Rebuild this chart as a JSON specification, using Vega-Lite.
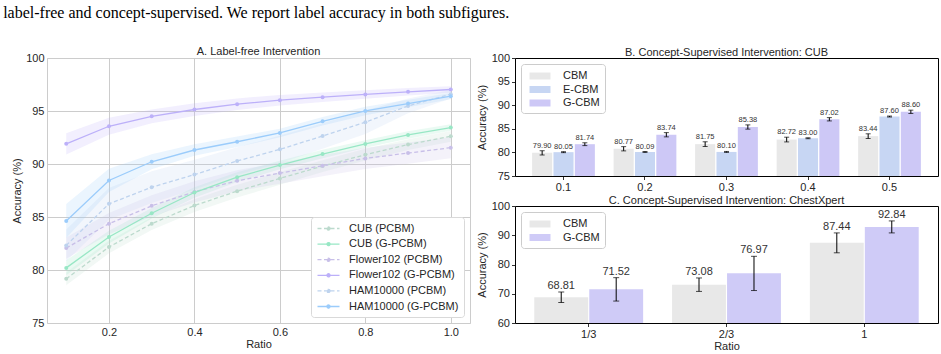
{
  "$schema": "https://vega.github.io/schema/vega-lite/v6.json",
  "background": "white",
  "padding": {"left": 3, "top": 4, "right": 5, "bottom": 2},
  "config": {
    "font": "Liberation Sans",
    "view": {"stroke": null},
    "axis": {"labelColor": "#262626", "titleColor": "#262626", "titleFontWeight": "normal", "labelFontSize": 11, "titleFontSize": 11, "labelOverlap": false},
    "axisY": {"tickSize": 3.5, "tickColor": "black", "tickWidth": 0.8, "labelPadding": 2, "titlePadding": 4, "domain": false, "grid": false},
    "title": {"fontWeight": "normal", "color": "#262626", "fontSize": 11, "offset": -6, "baseline": "alphabetic"},
    "legend": {"labelColor": "#262626"}
  },
  "title": {
    "text": "label-free and concept-supervised. We report label accuracy in both subfigures.",
    "font": "Liberation Serif",
    "fontSize": 16,
    "fontWeight": "normal",
    "color": "black",
    "anchor": "start",
    "baseline": "bottom",
    "dx": -8,
    "offset": 9
  },
  "datasets": {
    "curves": [
      {"series": "CUB (PCBM)", "ratio": 0.1, "acc": 79.17, "lo": 78.57, "hi": 79.77},
      {"series": "CUB (PCBM)", "ratio": 0.2, "acc": 82.17, "lo": 81.57, "hi": 82.77},
      {"series": "CUB (PCBM)", "ratio": 0.3, "acc": 84.37, "lo": 83.77, "hi": 84.97},
      {"series": "CUB (PCBM)", "ratio": 0.4, "acc": 86.08, "lo": 85.48, "hi": 86.68},
      {"series": "CUB (PCBM)", "ratio": 0.5, "acc": 87.44, "lo": 86.84, "hi": 88.04},
      {"series": "CUB (PCBM)", "ratio": 0.6, "acc": 88.64, "lo": 88.04, "hi": 89.24},
      {"series": "CUB (PCBM)", "ratio": 0.7, "acc": 89.8, "lo": 89.25, "hi": 90.35},
      {"series": "CUB (PCBM)", "ratio": 0.8, "acc": 90.88, "lo": 90.33, "hi": 91.43},
      {"series": "CUB (PCBM)", "ratio": 0.9, "acc": 91.83, "lo": 91.33, "hi": 92.33},
      {"series": "CUB (PCBM)", "ratio": 1.0, "acc": 92.61, "lo": 92.11, "hi": 93.11},
      {"series": "CUB (G-PCBM)", "ratio": 0.1, "acc": 80.2, "lo": 79.5, "hi": 80.9},
      {"series": "CUB (G-PCBM)", "ratio": 0.2, "acc": 83.11, "lo": 82.51, "hi": 83.71},
      {"series": "CUB (G-PCBM)", "ratio": 0.3, "acc": 85.35, "lo": 84.85, "hi": 85.85},
      {"series": "CUB (G-PCBM)", "ratio": 0.4, "acc": 87.31, "lo": 86.81, "hi": 87.81},
      {"series": "CUB (G-PCBM)", "ratio": 0.5, "acc": 88.76, "lo": 88.31, "hi": 89.21},
      {"series": "CUB (G-PCBM)", "ratio": 0.6, "acc": 89.9, "lo": 89.5, "hi": 90.3},
      {"series": "CUB (G-PCBM)", "ratio": 0.7, "acc": 90.94, "lo": 90.54, "hi": 91.34},
      {"series": "CUB (G-PCBM)", "ratio": 0.8, "acc": 91.89, "lo": 91.54, "hi": 92.24},
      {"series": "CUB (G-PCBM)", "ratio": 0.9, "acc": 92.74, "lo": 92.39, "hi": 93.09},
      {"series": "CUB (G-PCBM)", "ratio": 1.0, "acc": 93.44, "lo": 93.14, "hi": 93.74},
      {"series": "Flower102 (PCBM)", "ratio": 0.1, "acc": 82.07, "lo": 81.07, "hi": 83.07},
      {"series": "Flower102 (PCBM)", "ratio": 0.2, "acc": 84.37, "lo": 83.37, "hi": 85.37},
      {"series": "Flower102 (PCBM)", "ratio": 0.3, "acc": 86.05, "lo": 85.05, "hi": 87.05},
      {"series": "Flower102 (PCBM)", "ratio": 0.4, "acc": 87.37, "lo": 86.37, "hi": 88.37},
      {"series": "Flower102 (PCBM)", "ratio": 0.5, "acc": 88.42, "lo": 87.42, "hi": 89.42},
      {"series": "Flower102 (PCBM)", "ratio": 0.6, "acc": 89.14, "lo": 88.14, "hi": 90.14},
      {"series": "Flower102 (PCBM)", "ratio": 0.7, "acc": 89.84, "lo": 88.84, "hi": 90.84},
      {"series": "Flower102 (PCBM)", "ratio": 0.8, "acc": 90.53, "lo": 89.53, "hi": 91.53},
      {"series": "Flower102 (PCBM)", "ratio": 0.9, "acc": 91.03, "lo": 90.03, "hi": 92.03},
      {"series": "Flower102 (PCBM)", "ratio": 1.0, "acc": 91.54, "lo": 90.54, "hi": 92.54},
      {"series": "Flower102 (G-PCBM)", "ratio": 0.1, "acc": 91.9, "lo": 90.9, "hi": 92.9},
      {"series": "Flower102 (G-PCBM)", "ratio": 0.2, "acc": 93.56, "lo": 92.76, "hi": 94.36},
      {"series": "Flower102 (G-PCBM)", "ratio": 0.3, "acc": 94.5, "lo": 93.85, "hi": 95.15},
      {"series": "Flower102 (G-PCBM)", "ratio": 0.4, "acc": 95.14, "lo": 94.54, "hi": 95.74},
      {"series": "Flower102 (G-PCBM)", "ratio": 0.5, "acc": 95.64, "lo": 95.09, "hi": 96.19},
      {"series": "Flower102 (G-PCBM)", "ratio": 0.6, "acc": 96.02, "lo": 95.52, "hi": 96.52},
      {"series": "Flower102 (G-PCBM)", "ratio": 0.7, "acc": 96.3, "lo": 95.85, "hi": 96.75},
      {"series": "Flower102 (G-PCBM)", "ratio": 0.8, "acc": 96.56, "lo": 96.16, "hi": 96.96},
      {"series": "Flower102 (G-PCBM)", "ratio": 0.9, "acc": 96.81, "lo": 96.46, "hi": 97.16},
      {"series": "Flower102 (G-PCBM)", "ratio": 1.0, "acc": 97.03, "lo": 96.73, "hi": 97.33},
      {"series": "HAM10000 (PCBM)", "ratio": 0.1, "acc": 82.32, "lo": 80.82, "hi": 83.82},
      {"series": "HAM10000 (PCBM)", "ratio": 0.2, "acc": 86.24, "lo": 84.74, "hi": 87.74},
      {"series": "HAM10000 (PCBM)", "ratio": 0.3, "acc": 87.81, "lo": 86.31, "hi": 89.31},
      {"series": "HAM10000 (PCBM)", "ratio": 0.4, "acc": 89.0, "lo": 87.6, "hi": 90.4},
      {"series": "HAM10000 (PCBM)", "ratio": 0.5, "acc": 90.28, "lo": 88.98, "hi": 91.58},
      {"series": "HAM10000 (PCBM)", "ratio": 0.6, "acc": 91.38, "lo": 90.08, "hi": 92.68},
      {"series": "HAM10000 (PCBM)", "ratio": 0.7, "acc": 92.64, "lo": 91.44, "hi": 93.84},
      {"series": "HAM10000 (PCBM)", "ratio": 0.8, "acc": 93.94, "lo": 92.84, "hi": 95.04},
      {"series": "HAM10000 (PCBM)", "ratio": 0.9, "acc": 95.48, "lo": 94.78, "hi": 96.18},
      {"series": "HAM10000 (PCBM)", "ratio": 1.0, "acc": 96.59, "lo": 96.19, "hi": 96.99},
      {"series": "HAM10000 (G-PCBM)", "ratio": 0.1, "acc": 84.63, "lo": 83.03, "hi": 86.23},
      {"series": "HAM10000 (G-PCBM)", "ratio": 0.2, "acc": 88.45, "lo": 87.35, "hi": 89.55},
      {"series": "HAM10000 (G-PCBM)", "ratio": 0.3, "acc": 90.21, "lo": 89.51, "hi": 90.91},
      {"series": "HAM10000 (G-PCBM)", "ratio": 0.4, "acc": 91.32, "lo": 90.77, "hi": 91.87},
      {"series": "HAM10000 (G-PCBM)", "ratio": 0.5, "acc": 92.1, "lo": 91.6, "hi": 92.6},
      {"series": "HAM10000 (G-PCBM)", "ratio": 0.6, "acc": 92.93, "lo": 92.53, "hi": 93.33},
      {"series": "HAM10000 (G-PCBM)", "ratio": 0.7, "acc": 94.03, "lo": 93.63, "hi": 94.43},
      {"series": "HAM10000 (G-PCBM)", "ratio": 0.8, "acc": 95.01, "lo": 94.61, "hi": 95.41},
      {"series": "HAM10000 (G-PCBM)", "ratio": 0.9, "acc": 95.7, "lo": 95.35, "hi": 96.05},
      {"series": "HAM10000 (G-PCBM)", "ratio": 1.0, "acc": 96.4, "lo": 96.1, "hi": 96.7}
    ],
    "cub": [
      {"ratio": "0.1", "model": "CBM", "acc": 79.90, "lo": 79.45, "hi": 80.35},
      {"ratio": "0.1", "model": "E-CBM", "acc": 80.05, "lo": 79.95, "hi": 80.15},
      {"ratio": "0.1", "model": "G-CBM", "acc": 81.74, "lo": 81.44, "hi": 82.04},
      {"ratio": "0.2", "model": "CBM", "acc": 80.77, "lo": 80.32, "hi": 81.22},
      {"ratio": "0.2", "model": "E-CBM", "acc": 80.09, "lo": 79.99, "hi": 80.19},
      {"ratio": "0.2", "model": "G-CBM", "acc": 83.74, "lo": 83.29, "hi": 84.19},
      {"ratio": "0.3", "model": "CBM", "acc": 81.75, "lo": 81.25, "hi": 82.25},
      {"ratio": "0.3", "model": "E-CBM", "acc": 80.10, "lo": 80.0, "hi": 80.2},
      {"ratio": "0.3", "model": "G-CBM", "acc": 85.38, "lo": 84.93, "hi": 85.83},
      {"ratio": "0.4", "model": "CBM", "acc": 82.72, "lo": 82.22, "hi": 83.22},
      {"ratio": "0.4", "model": "E-CBM", "acc": 83.00, "lo": 82.9, "hi": 83.1},
      {"ratio": "0.4", "model": "G-CBM", "acc": 87.02, "lo": 86.67, "hi": 87.37},
      {"ratio": "0.5", "model": "CBM", "acc": 83.44, "lo": 82.94, "hi": 83.94},
      {"ratio": "0.5", "model": "E-CBM", "acc": 87.60, "lo": 87.5, "hi": 87.7},
      {"ratio": "0.5", "model": "G-CBM", "acc": 88.60, "lo": 88.25, "hi": 88.95}
    ],
    "chest": [
      {"ratio": "1/3", "model": "CBM", "acc": 68.81, "lo": 67.0, "hi": 70.6},
      {"ratio": "1/3", "model": "G-CBM", "acc": 71.52, "lo": 67.5, "hi": 75.5},
      {"ratio": "2/3", "model": "CBM", "acc": 73.08, "lo": 70.8, "hi": 75.4},
      {"ratio": "2/3", "model": "G-CBM", "acc": 76.97, "lo": 71.1, "hi": 82.8},
      {"ratio": "1", "model": "CBM", "acc": 87.44, "lo": 84.0, "hi": 90.8},
      {"ratio": "1", "model": "G-CBM", "acc": 92.84, "lo": 90.8, "hi": 94.9}
    ]
  },
  "bounds": "flush",
  "spacing": 45,
  "resolve": {
    "scale": {"color": "independent", "xOffset": "independent"},
    "legend": {"color": "independent"}
  },
  "hconcat": [
    {
      "title": {"text": "A. Label-free Intervention", "offset": -5},
      "width": 423,
      "height": 265,
      "view": {"stroke": "#cccccc", "strokeWidth": 1},
      "data": {"name": "curves"},
      "encoding": {
        "x": {
          "field": "ratio", "type": "quantitative",
          "scale": {"domain": [0.055, 1.045], "nice": false, "zero": false},
          "axis": {"values": [0.2, 0.4, 0.6, 0.8, 1.0], "format": ".1f", "title": "Ratio", "tickSize": 0, "labelPadding": 3, "titlePadding": 1, "domain": false, "grid": true, "gridColor": "#cccccc", "gridWidth": 1}
        },
        "color": {
          "field": "series", "type": "nominal",
          "scale": {
            "domain": ["CUB (PCBM)", "CUB (G-PCBM)", "Flower102 (PCBM)", "Flower102 (G-PCBM)", "HAM10000 (PCBM)", "HAM10000 (G-PCBM)"],
            "range": ["#bcdacd", "#98e7c5", "#c8bfe8", "#bcb0f9", "#bed3ee", "#9bccfb"]
          },
          "legend": {
            "title": null, "orient": "bottom-right", "offset": 6,
            "labelFontSize": 11, "labelLimit": 200,
            "symbolType": "M-2,0H2M0.28,0A0.28,0.28,0,1,1,-0.28,0A0.28,0.28,0,1,1,0.28,0",
            "symbolSize": 121, "symbolStrokeWidth": 1.3, "symbolOpacity": 1, "symbolOffset": 6, "labelOffset": 14,
            "strokeColor": "#d9d9d9", "fillColor": "white", "padding": 5, "rowPadding": 3.6, "cornerRadius": 3,
            "encode": {
              "symbols": {
                "update": {
                  "strokeDash": {"signal": "indexof(datum.label, 'G-PCBM') < 0 ? [4, 2.5] : [1, 0]"},
                  "opacity": {"value": 1}
                }
              }
            }
          }
        }
      },
      "layer": [
        {
          "mark": {"type": "area", "opacity": 0.2},
          "encoding": {
            "y": {"field": "lo", "type": "quantitative", "title": "Accuracy (%)",
                  "scale": {"domain": [75, 100], "nice": false, "zero": false},
                  "axis": {"values": [75, 80, 85, 90, 95, 100], "tickSize": 0, "labelPadding": 3, "titlePadding": 3, "domain": false, "grid": true, "gridColor": "#cccccc", "gridWidth": 1}},
            "y2": {"field": "hi"}
          }
        },
        {
          "transform": [{"filter": "indexof(datum.series, 'G-PCBM') < 0"}],
          "mark": {"type": "line", "strokeWidth": 1.3, "strokeDash": [4, 2.5], "point": {"filled": true, "size": 16}},
          "encoding": {
            "y": {"field": "acc", "type": "quantitative", "title": "Accuracy (%)",
                  "scale": {"domain": [75, 100], "nice": false, "zero": false},
                  "axis": {"values": [75, 80, 85, 90, 95, 100], "tickSize": 0, "labelPadding": 3, "titlePadding": 3, "domain": false, "grid": true, "gridColor": "#cccccc", "gridWidth": 1}}
          }
        },
        {
          "transform": [{"filter": "indexof(datum.series, 'G-PCBM') >= 0"}],
          "mark": {"type": "line", "strokeWidth": 1.3, "point": {"filled": true, "size": 16}},
          "encoding": {
            "y": {"field": "acc", "type": "quantitative", "title": "Accuracy (%)",
                  "scale": {"domain": [75, 100], "nice": false, "zero": false},
                  "axis": {"values": [75, 80, 85, 90, 95, 100], "tickSize": 0, "labelPadding": 3, "titlePadding": 3, "domain": false, "grid": true, "gridColor": "#cccccc", "gridWidth": 1}}
          }
        }
      ]
    },
    {
      "bounds": "flush",
      "spacing": 30,
      "resolve": {"scale": {"color": "independent", "xOffset": "independent"}, "legend": {"color": "independent"}},
      "vconcat": [
        {
          "title": {"text": "B. Concept-Supervised Intervention: CUB"},
          "width": 423,
          "height": 118,
          "view": {"stroke": "black", "strokeWidth": 1},
          "data": {"name": "cub"},
          "encoding": {
            "x": {"field": "ratio", "type": "nominal", "sort": null,
                  "scale": {"paddingInner": 0.23, "paddingOuter": 0.21},
                  "axis": {"title": null, "labelAngle": 0, "tickSize": 3.5, "tickColor": "black", "tickWidth": 0.8, "labelPadding": 2, "domain": false}},
            "xOffset": {"field": "model", "type": "nominal", "scale": {"domain": ["CBM", "E-CBM", "G-CBM"], "paddingInner": 0.06}}
          },
          "layer": [
            {
              "mark": {"type": "bar"},
              "encoding": {
                "y": {"field": "acc", "type": "quantitative", "title": "Accuracy (%)",
                      "scale": {"domain": [75, 100], "nice": false, "zero": false},
                      "axis": {"values": [75, 80, 85, 90, 95, 100]}},
                "y2": {"datum": 75},
                "color": {
                  "field": "model", "type": "nominal",
                  "scale": {"domain": ["CBM", "E-CBM", "G-CBM"], "range": ["#e8e8e8", "#c7d6f3", "#cdc8f6"]},
                  "legend": {
                    "title": null, "orient": "top-left", "offset": 6, "labelFontSize": 11,
                    "symbolType": "M-1.5,-0.5H1.5V0.5H-1.5Z", "symbolSize": 196, "symbolStrokeWidth": 0,
                    "symbolOffset": 7, "labelOffset": 16,
                    "strokeColor": "#cccccc", "fillColor": "white", "padding": 5, "rowPadding": 1.5, "cornerRadius": 3
                  }
                }
              }
            },
            {
              "mark": {"type": "rule", "color": "black", "strokeWidth": 1},
              "encoding": {
                "y": {"field": "lo", "type": "quantitative", "title": "Accuracy (%)", "axis": {"values": [75, 80, 85, 90, 95, 100]}},
                "y2": {"field": "hi"}
              }
            },
            {
              "mark": {"type": "tick", "color": "black", "thickness": 1, "size": 5},
              "encoding": {"y": {"field": "lo", "type": "quantitative", "title": "Accuracy (%)", "axis": {"values": [75, 80, 85, 90, 95, 100]}}}
            },
            {
              "mark": {"type": "tick", "color": "black", "thickness": 1, "size": 5},
              "encoding": {"y": {"field": "hi", "type": "quantitative", "title": "Accuracy (%)", "axis": {"values": [75, 80, 85, 90, 95, 100]}}}
            },
            {
              "mark": {"type": "text", "baseline": "bottom", "dy": -1, "fontSize": 7.5, "color": "#333333"},
              "encoding": {
                "y": {"field": "hi", "type": "quantitative", "title": "Accuracy (%)", "axis": {"values": [75, 80, 85, 90, 95, 100]}},
                "text": {"field": "acc", "type": "quantitative", "format": ".2f"}
              }
            }
          ]
        },
        {
          "title": {"text": "C. Concept-Supervised Intervention: ChestXpert"},
          "width": 423,
          "height": 117,
          "view": {"stroke": "black", "strokeWidth": 1},
          "data": {"name": "chest"},
          "encoding": {
            "x": {"field": "ratio", "type": "nominal", "sort": null,
                  "scale": {"paddingInner": 0.21, "paddingOuter": 0.14},
                  "axis": {"title": "Ratio", "labelAngle": 0, "tickSize": 3.5, "tickColor": "black", "tickWidth": 0.8, "labelPadding": 2, "titlePadding": 1, "domain": false}},
            "xOffset": {"field": "model", "type": "nominal", "scale": {"domain": ["CBM", "G-CBM"], "paddingInner": 0.02}}
          },
          "layer": [
            {
              "mark": {"type": "bar"},
              "encoding": {
                "y": {"field": "acc", "type": "quantitative", "title": "Accuracy (%)",
                      "scale": {"domain": [60, 100], "nice": false, "zero": false},
                      "axis": {"values": [60, 70, 80, 90, 100]}},
                "y2": {"datum": 60},
                "color": {
                  "field": "model", "type": "nominal",
                  "scale": {"domain": ["CBM", "G-CBM"], "range": ["#e8e8e8", "#cfcbf7"]},
                  "legend": {
                    "title": null, "orient": "top-left", "offset": 6, "labelFontSize": 11,
                    "symbolType": "M-1.5,-0.5H1.5V0.5H-1.5Z", "symbolSize": 196, "symbolStrokeWidth": 0,
                    "symbolOffset": 7, "labelOffset": 16,
                    "strokeColor": "#cccccc", "fillColor": "white", "padding": 5, "rowPadding": 1.5, "cornerRadius": 3
                  }
                }
              }
            },
            {
              "mark": {"type": "rule", "color": "black", "strokeWidth": 1},
              "encoding": {
                "y": {"field": "lo", "type": "quantitative", "title": "Accuracy (%)", "axis": {"values": [60, 70, 80, 90, 100]}},
                "y2": {"field": "hi"}
              }
            },
            {
              "mark": {"type": "tick", "color": "black", "thickness": 1, "size": 6},
              "encoding": {"y": {"field": "lo", "type": "quantitative", "title": "Accuracy (%)", "axis": {"values": [60, 70, 80, 90, 100]}}}
            },
            {
              "mark": {"type": "tick", "color": "black", "thickness": 1, "size": 6},
              "encoding": {"y": {"field": "hi", "type": "quantitative", "title": "Accuracy (%)", "axis": {"values": [60, 70, 80, 90, 100]}}}
            },
            {
              "mark": {"type": "text", "baseline": "bottom", "dy": -1, "fontSize": 11, "color": "#333333"},
              "encoding": {
                "y": {"field": "hi", "type": "quantitative", "title": "Accuracy (%)", "axis": {"values": [60, 70, 80, 90, 100]}},
                "text": {"field": "acc", "type": "quantitative", "format": ".2f"}
              }
            }
          ]
        }
      ]
    }
  ]
}
